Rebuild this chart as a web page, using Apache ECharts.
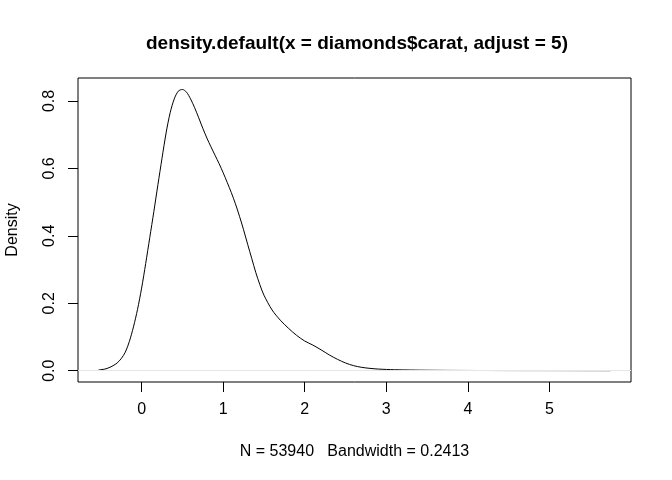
<!DOCTYPE html>
<html>
<head>
<meta charset="utf-8">
<script src="https://cdn.jsdelivr.net/npm/echarts@6/dist/echarts.min.js"></script>
<style>
  html, body { margin: 0; padding: 0; background: #fff; }
  #chart { width: 672px; height: 480px; }
</style>
</head>
<body>
<div id="chart"></div>
<script>
// density estimate (carat vs density)
const caratX = [-0.53, -0.45, -0.4, -0.35, -0.3, -0.25, -0.2, -0.15, -0.1, -0.05,
  0.0, 0.05, 0.1, 0.15, 0.2, 0.25, 0.3, 0.35, 0.4, 0.45,
  0.5, 0.55, 0.6, 0.65, 0.7, 0.75, 0.8, 0.85, 0.9, 0.95,
  1.0, 1.05, 1.1, 1.15, 1.2, 1.25, 1.3, 1.35, 1.4, 1.45,
  1.5, 1.6, 1.7, 1.8, 1.9, 2.0, 2.1, 2.2, 2.3, 2.4,
  2.5, 2.6, 2.7, 2.8, 2.9, 3.1, 3.5, 4.0, 4.5, 5.0, 5.75];
const densityY = [0.002, 0.005, 0.009, 0.015, 0.023, 0.036, 0.055, 0.087, 0.13, 0.182,
  0.245, 0.318, 0.395, 0.472, 0.552, 0.630, 0.705, 0.765, 0.806, 0.829,
  0.834, 0.826, 0.806, 0.780, 0.750, 0.719, 0.690, 0.664, 0.639, 0.614,
  0.587, 0.558, 0.528, 0.495, 0.458, 0.418, 0.375, 0.333, 0.291, 0.255,
  0.224, 0.180, 0.150, 0.126, 0.105, 0.088, 0.076, 0.062, 0.047, 0.034,
  0.023, 0.015, 0.010, 0.007, 0.005, 0.003, 0.0015, 0.0008, 0.0005, 0.0004, 0.0002];

const xTicks = [0, 1, 2, 3, 4, 5];
const yTicks = [0, 0.2, 0.4, 0.6, 0.8];

const titleText = 'density.default(x = diamonds$carat, adjust = 5)';
const subText = 'N = 53940   Bandwidth = 0.2413';
const yName = 'Density';

const font = '"Liberation Sans", Arial, Helvetica, sans-serif';

const chart = echarts.init(document.getElementById('chart'));

const points = caratX.map((x, i) => [x, densityY[i]]);

chart.setOption({
  animation: false,
  backgroundColor: '#fff',
  title: {
    text: titleText,
    left: 352,
    top: 29,
    textAlign: 'center',
    textStyle: { fontFamily: font, fontSize: 19, fontWeight: 'bold', color: '#000' },
  },
  grid: {
    left: 78,
    right: 41,
    top: 78,
    bottom: 98,
    show: true,
    borderColor: '#000',
    borderWidth: 1,
    containLabel: false,
    outerBoundsMode: 'none',
  },
  xAxis: {
    type: 'value',
    min: -0.78,
    max: 6.0,
    name: subText,
    nameLocation: 'middle',
    nameGap: 62,
    nameTextStyle: { fontFamily: font, fontSize: 16, color: '#000' },
    axisLine: { show: false, onZero: false },
    splitLine: { show: false },
    axisTick: {
      show: true,
      length: 10,
      customValues: xTicks,
      lineStyle: { color: '#000', width: 1 },
    },
    axisLabel: {
      customValues: xTicks,
      fontFamily: font,
      fontSize: 16,
      color: '#000',
      margin: 20,
    },
  },
  yAxis: {
    type: 'value',
    min: -0.0334,
    max: 0.868,
    name: yName,
    nameLocation: 'middle',
    nameGap: 57,
    nameTextStyle: { fontFamily: font, fontSize: 16, color: '#000' },
    axisLine: { show: false, onZero: false },
    splitLine: { show: false },
    axisTick: {
      show: true,
      length: 10,
      customValues: yTicks,
      lineStyle: { color: '#000', width: 1 },
    },
    axisLabel: {
      customValues: yTicks,
      rotate: 90,
      fontFamily: font,
      fontSize: 16,
      color: '#000',
      margin: 20,
      formatter: (v) => v.toFixed(1),
    },
  },
  series: [
    {
      type: 'line',
      data: points,
      smooth: 0.3,
      symbol: 'none',
      lineStyle: { color: '#000', width: 1 },
      markLine: {
        silent: true,
        symbol: ['none', 'none'],
        label: { show: false },
        lineStyle: { color: '#e6e6e6', width: 1, type: 'solid' },
        data: [{ yAxis: 0 }],
      },
    },
  ],
});
</script>
</body>
</html>
